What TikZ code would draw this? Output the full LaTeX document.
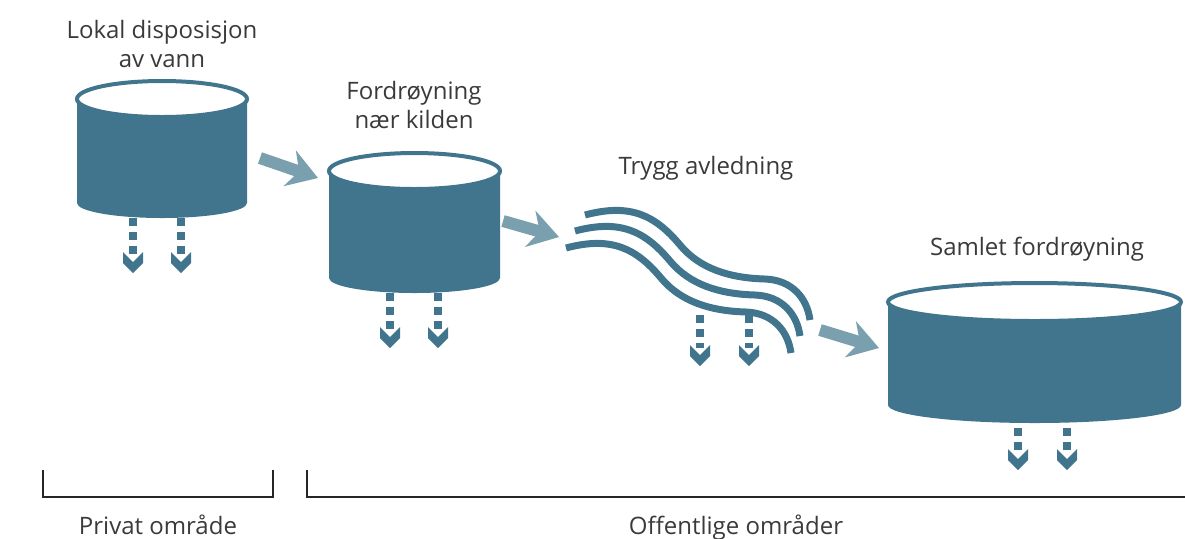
\documentclass[tikz,border=0pt]{standalone}
\usepackage{fontspec}
\setmainfont{Open Sans}
\usetikzlibrary{arrows.meta}

\definecolor{tankblue}{RGB}{64,117,141}
\definecolor{flowblue}{RGB}{122,160,175}
\definecolor{textgray}{RGB}{58,58,58}

\begin{document}
\begin{tikzpicture}[x=0.5pt,y=-0.5pt,
    label node/.style={align=center,anchor=base,inner sep=0pt,text=textgray,font=\fontsize{12}{14.5}\selectfont},
    tank/.style={fill=tankblue},
    rim/.style={draw=tankblue,fill=white,line width=2pt},
    drip/.style={draw=tankblue,line width=4pt,dash pattern=on 4pt off 3pt},
    wave/.style={draw=tankblue,line width=3.5pt},
    flow/.style={draw=flowblue,line width=6pt,-{Stealth[length=15pt,width=19pt,inset=5pt,line width=0pt]}},
    brace/.style={draw=black!85,line width=1.2pt}]

            \useasboundingbox (0,0) rectangle (1185,538);

            % tanks
            \fill[tank] (77,99) -- (77,203) arc[start angle=180,end angle=360,x radius=42.5pt,y radius=7.5pt] -- (247,99) -- cycle;
            \draw[rim] (162,99) ellipse[x radius=42.5pt,y radius=9pt];

            \fill[tank] (329,171) -- (329,278) arc[start angle=180,end angle=360,x radius=42.75pt,y radius=7.5pt] -- (500,171) -- cycle;
            \draw[rim] (414.5,171) ellipse[x radius=42.75pt,y radius=9pt];

            \fill[tank] (888,302) -- (888,405) arc[start angle=180,end angle=360,x radius=73.25pt,y radius=9pt] -- (1181,302) -- cycle;
            \draw[rim] (1034.5,302) ellipse[x radius=73.25pt,y radius=9.5pt];

            % waves
            \foreach \dx/\dy in {0/0,-10/16,-19/33}
            {
                \draw[wave,shift={(\dx,\dy)}] (585,215) .. controls (630,203) and (655,215) .. (680,245)
                    .. controls (700,269) and (730,278) .. (765,279) .. controls (792,280) and (807,298) .. (810,320);
            }

            % drips
            \foreach \x/\top/\tip in {133/218/273,181/218/273,390/293/348,438/293/348,700/315/366,749/315/366,1018/428/470,1067/428/470}
            {
                \draw[drip] (\x,\top) -- (\x,{\tip-18});
                \fill[tankblue] ({\x-10},{\tip-21}) -- (\x,{\tip-11}) -- ({\x+10},{\tip-21}) -- ({\x+10},{\tip-10}) -- (\x,\tip) -- ({\x-10},{\tip-10}) -- cycle;
            }

            % flow arrows
            \coordinate (a1) at (260,158);
            \coordinate (b1) at (318,178);
            \coordinate (a2) at (503,221);
            \coordinate (b2) at (559,237);
            \coordinate (a3) at (820,330);
            \coordinate (b3) at (879,348);
            \draw[flow] (a1) -- (b1);
            \draw[flow] (a2) -- (b2);
            \draw[flow] (a3) -- (b3);

            % labels
            \node[label node] (lokal) at (162,67) {Lokal disposisjon\\av vann};
            \node[label node] (kilde) at (414,128) {Fordrøyning\\nær kilden};
            \node[label node] (trygg) at (706,174) {Trygg avledning};
            \node[label node] (samlet) at (1037,255) {Samlet fordrøyning};
            \node[label node] (privat) at (158,534) {Privat område};
            \node[label node] (offentlig) at (736,534) {Offentlige områder};

            % brackets
            \coordinate (p1) at (43,470);
            \coordinate (p2) at (43,497);
            \coordinate (p3) at (273,497);
            \coordinate (p4) at (273,470);
            \coordinate (q1) at (307,470);
            \coordinate (q2) at (307,497);
            \coordinate (q3) at (1185,497);
            \draw[brace] (p1) -- (p2) -- (p3) -- (p4);
            \draw[brace] (q1) -- (q2) -- (q3);

            ;
        \end{tikzpicture}
\end{document}
